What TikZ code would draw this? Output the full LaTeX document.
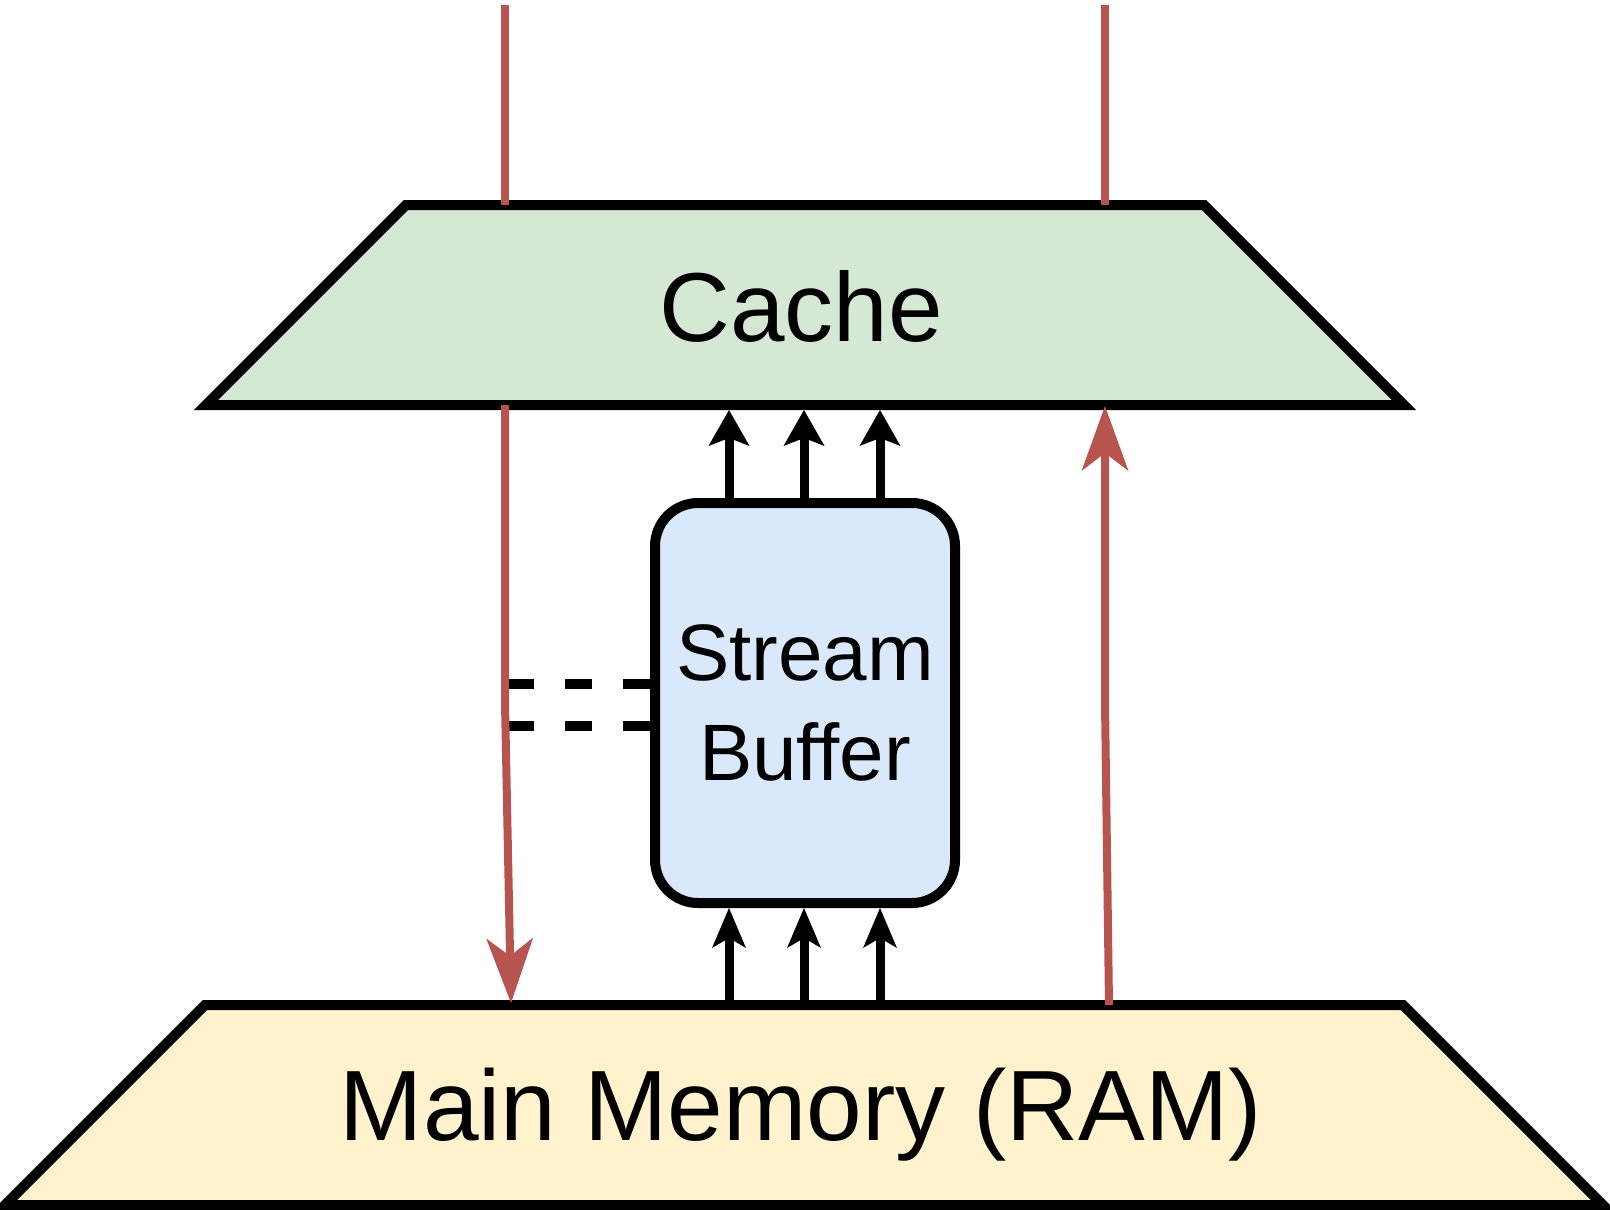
\documentclass[tikz,border=0pt]{standalone}
\usepackage{fontspec}
\setmainfont{Liberation Sans}
\usetikzlibrary{arrows.meta}
\definecolor{cachefill}{HTML}{D5E8D4}
\definecolor{memfill}{HTML}{FFF2CC}
\definecolor{buffill}{HTML}{DAE8FC}
\definecolor{redline}{HTML}{B85450}
\begin{document}
\begin{tikzpicture}[x=1pt,y=-1pt,
  outline/.style={draw=black,line width=10pt,line join=miter},
  redarrow/.style={draw=redline,line width=8pt,-{Stealth[length=65pt,width=47pt,inset=18pt,line width=0pt]}},
  redplain/.style={draw=redline,line width=8pt},
  blkup/.style={draw=black,line width=9pt,-{Stealth[length=36pt,width=41pt,inset=8pt,line width=0pt]}},
  blkin/.style={draw=black,line width=9pt,-{Stealth[length=40pt,width=34pt,inset=10pt,line width=0pt]}},
  dashline/.style={draw=black,line width=10pt,dash pattern=on 27pt off 31pt},
  bufbox/.style={draw=black,fill=buffill,line width=10pt,rounded corners=43pt,minimum width=300pt,minimum height=400pt,inner sep=0pt,align=center,font=\fontsize{80}{100}\selectfont},
  biglabel/.style={anchor=base,inner sep=0pt,font=\fontsize{98}{118}\selectfont}
]
\useasboundingbox (0,0) rectangle (1610,1210);
% shapes
\path[outline,fill=cachefill] (406,205) -- (1204,205) -- (1404,405) -- (206,405) -- cycle;
\path[outline,fill=memfill] (205,1005) -- (1403,1005) -- (1603,1205) -- (5,1205) -- cycle;
\node[bufbox] (buf) at (805,703) {Stream\\Buffer};
\node[biglabel] (cachelbl) at (801,341) {Cache};
\node[biglabel,font=\fontsize{100}{120}\selectfont] (memlbl) at (801,1140) {Main Memory (RAM)};
% coordinates
\coordinate (rlTop) at (505,5);
\coordinate (rlCT) at (505,205);
\coordinate (rlCB) at (505,405);
\coordinate (rlBend) at (505,703);
\coordinate (rlMem) at (511,1003);
\coordinate (rrTop) at (1105,5);
\coordinate (rrCT) at (1105,205);
\coordinate (rrCB) at (1105,406);
\coordinate (rrBend) at (1105,703);
\coordinate (rrMem) at (1109,1005);
\coordinate (ct1) at (729,410);
\coordinate (ct2) at (804,410);
\coordinate (ct3) at (880,410);
\coordinate (mt1) at (729,1001);
\coordinate (mt2) at (804,1001);
\coordinate (mt3) at (880,1001);
\coordinate (d1) at (509,684);
\coordinate (d2) at (509,726);
% dashed links
\draw[dashline] (buf.west |- d1) -- (d1);
\draw[dashline] (buf.west |- d2) -- (d2);
% red connectors
\draw[redplain] (rlTop) -- (rlCT);
\draw[redplain] (rrTop) -- (rrCT);
\draw[redarrow] (rlCB) -- (rlBend) -- (rlMem);
\draw[redarrow] (rrMem) -- (rrBend) -- (rrCB);
% black arrows
\draw[blkup] (buf.north -| ct1) -- (ct1);
\draw[blkup] (buf.north -| ct2) -- (ct2);
\draw[blkup] (buf.north -| ct3) -- (ct3);
\draw[blkin] (mt1) -- (buf.south -| mt1);
\draw[blkin] (mt2) -- (buf.south -| mt2);
\draw[blkin] (mt3) -- (buf.south -| mt3);
\end{tikzpicture}
\end{document}
